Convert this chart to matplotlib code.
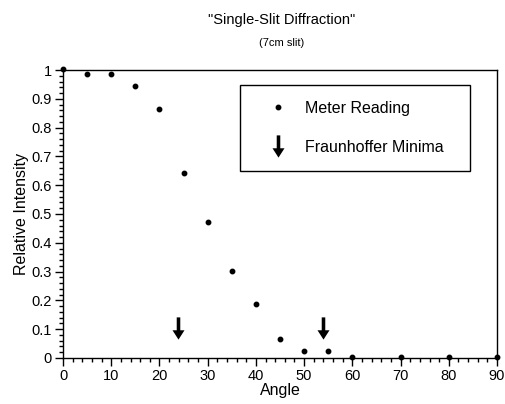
import numpy as np
import matplotlib.pyplot as plt
from matplotlib.path import Path
from matplotlib.ticker import MultipleLocator

plt.rcParams['font.family'] = ['Liberation Sans', 'DejaVu Sans']

angle = [0, 5, 10, 15, 20, 25, 30, 35, 40, 45, 50, 55, 60, 70, 80, 90]
reading = [1.003, 0.985, 0.985, 0.945, 0.865, 0.643, 0.473, 0.302, 0.186, 0.065,
           0.024, 0.024, 0.004, 0.004, 0.004, 0.004]
minima_angle = [23.8, 54.0]
minima_level = [0.105, 0.105]

# down arrow marker
arrow = Path([(-0.08, 0.5), (0.08, 0.5), (0.08, -0.08), (0.27, -0.08), (0.0, -0.5),
              (-0.27, -0.08), (-0.08, -0.08), (-0.08, 0.5)],
             [Path.MOVETO] + [Path.LINETO] * 6 + [Path.CLOSEPOLY])

fig = plt.figure(figsize=(5.05, 4.04), dpi=100)
ax = fig.add_axes([0.1248, 0.1139, 0.8594, 0.7128])

ax.plot(angle, reading, 'o', color='black', markersize=3.2, clip_on=False, zorder=5,
        label='Meter Reading')
ax.plot(minima_angle, minima_level, linestyle='none', marker=arrow, markersize=16,
        color='black', markeredgewidth=0, label='Fraunhoffer Minima')

ax.set_xlim(0, 90)
ax.set_ylim(0, 1)
ax.xaxis.set_major_locator(MultipleLocator(10))
ax.xaxis.set_minor_locator(MultipleLocator(2))
ax.yaxis.set_major_locator(MultipleLocator(0.1))
ax.yaxis.set_minor_locator(MultipleLocator(0.02))
ax.yaxis.set_major_formatter(plt.FuncFormatter(lambda v, p: '%g' % round(v, 2)))
ax.tick_params(which='major', direction='out', length=6, width=1, labelsize=10.5, color='black')
ax.tick_params(which='minor', direction='out', length=3, width=1, color='black')
ax.tick_params(axis='x', pad=2)
ax.tick_params(axis='y', pad=2)
for s in ax.spines.values():
    s.set_linewidth(1)

ax.set_xlabel('Angle', fontsize=11.5, labelpad=0)
ax.set_ylabel('Relative Intensity', fontsize=11.5, labelpad=2)

fig.text(0.557, 0.95, '"Single-Slit Diffraction"', ha='center', va='center', fontsize=10.5)
fig.text(0.557, 0.893, '(7cm slit)', ha='center', va='center', fontsize=8)

leg = ax.legend(loc='upper left', bbox_to_anchor=(0.408, 0.646, 0.53, 0.302), mode='expand',
                fancybox=False, edgecolor='black', framealpha=1, fontsize=11.5,
                borderpad=1.0, labelspacing=1.5, handlelength=2.75, handletextpad=0.3,
                borderaxespad=0)
leg.get_frame().set_linewidth(1)
leg.legend_handles[0].set_markersize(3.2)

fig.savefig('out.png', dpi=100)
